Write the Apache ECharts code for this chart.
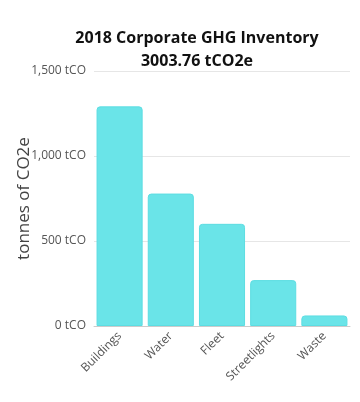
<!DOCTYPE html>
<html><head><meta charset="utf-8">
<script src="https://cdn.jsdelivr.net/npm/echarts@6/dist/echarts.min.js"></script>
<style>html,body{margin:0;padding:0;background:#fff}#c{width:360px;height:402px}</style>
</head><body><div id="c"></div>
<script>
var categories = ['Buildings', 'Water', 'Fleet', 'Streetlights', 'Waste'];
var emissions = [1292, 779, 601, 270, 62];
var yTicks = [0, 500, 1000, 1500];
var titleLines = ['2018 Corporate GHG Inventory', '3003.76 tCO2e'];
var yAxisName = 'tonnes of CO2e';

var chart = echarts.init(document.getElementById('c'), null, {renderer: 'canvas'});
chart.setOption({
  animation: false,
  title: {
    text: titleLines.join('\n'),
    left: 192, top: 22, textAlign: 'center',
    textStyle: {fontFamily: 'Open Sans', fontWeight: 'bold', fontSize: 16, color: '#111', lineHeight: 23}
  },
  grid: {left: 94, right: 10, top: 71, bottom: 76, outerBoundsMode: 'none'},
  xAxis: {
    type: 'category', data: categories,
    axisLine: {lineStyle: {color: '#cccccc'}},
    axisTick: {show: false},
    axisLabel: {rotate: 45, color: '#555', fontFamily: 'Open Sans', fontSize: 12, margin: 8}
  },
  yAxis: {
    type: 'value', min: yTicks[0], max: yTicks[yTicks.length - 1], interval: 500,
    name: yAxisName, nameLocation: 'middle', nameGap: 61, nameMoveOverlap: false,
    nameTextStyle: {fontFamily: 'Open Sans', fontSize: 17, color: '#444'},
    axisLine: {show: false}, axisTick: {show: false},
    splitLine: {lineStyle: {color: '#e6e6e6'}},
    axisLabel: {
      color: '#555', fontFamily: 'Open Sans', fontSize: 12, margin: 8,
      formatter: function (v) { return v.toLocaleString('en-US') + ' tCO'; }
    }
  },
  series: [{
    type: 'bar', data: emissions, barCategoryGap: '10%',
    itemStyle: {color: '#6ae4e8', borderColor: '#5cdde2', borderWidth: 1, borderRadius: [3, 3, 0, 0]}
  }]
});
</script></body></html>
